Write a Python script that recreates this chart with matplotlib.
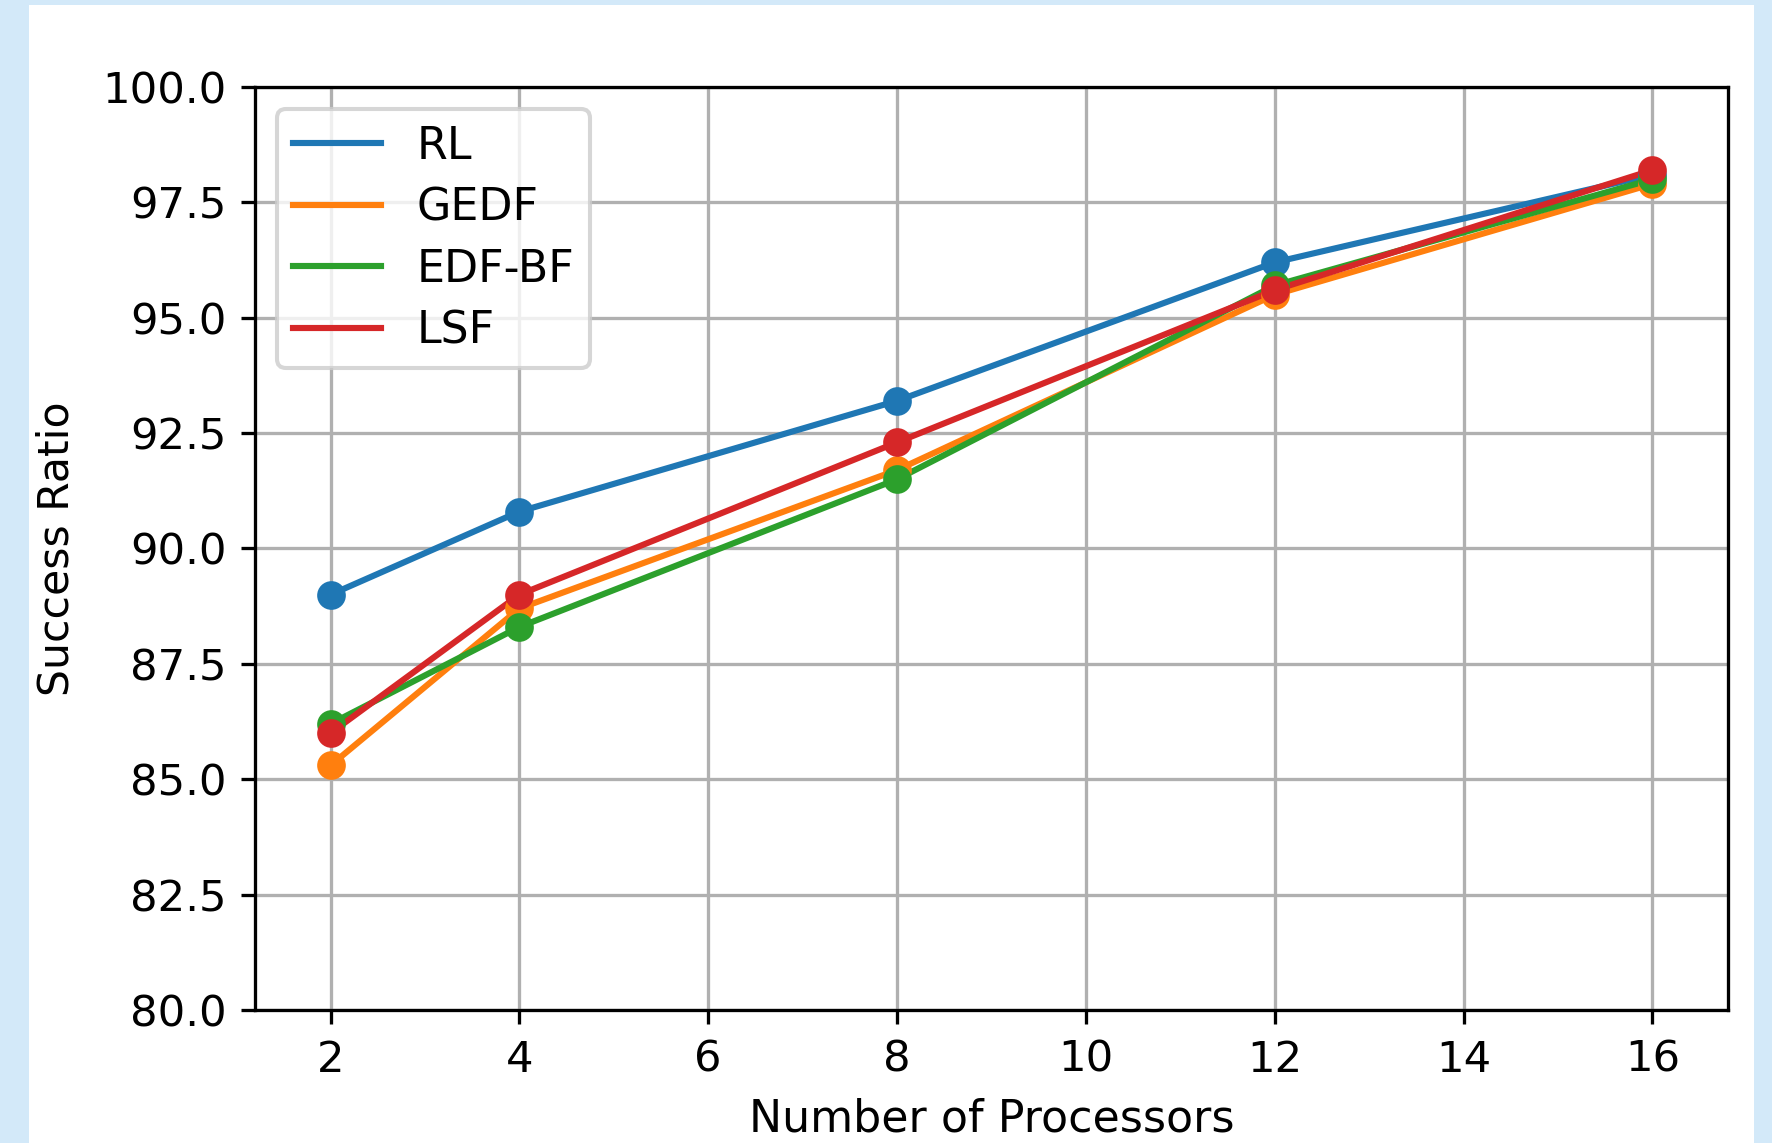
import matplotlib
matplotlib.use("Agg")
import matplotlib.pyplot as plt
from matplotlib.patches import Rectangle

# processors on the x axis
processors = [2, 4, 8, 12, 16]

# success ratio per scheduler
rl = [89.0, 90.8, 93.2, 96.2, 98.1]
gedf = [85.3, 88.7, 91.7, 95.5, 97.9]
edf_bf = [86.2, 88.3, 91.5, 95.7, 98.0]
lsf = [86.0, 89.0, 92.3, 95.6, 98.2]

series = [("RL", rl, "#1f77b4"),
          ("GEDF", gedf, "#ff7f0e"),
          ("EDF-BF", edf_bf, "#2ca02c"),
          ("LSF", lsf, "#d62728")]

x_ticks = [2, 4, 6, 8, 10, 12, 14, 16]
y_ticks = [80.0, 82.5, 85.0, 87.5, 90.0, 92.5, 95.0, 97.5, 100.0]

fig = plt.figure(figsize=(1772 / 295, 1143 / 295), dpi=295, facecolor="#d3e9f9")

# white panel sitting on the light blue page
fig.patches.append(Rectangle((29 / 1772, 0), (1754 - 29) / 1772, 1 - 5 / 1143,
                             transform=fig.transFigure, facecolor="white",
                             edgecolor="none", zorder=-5))

ax = fig.add_axes([255 / 1772, 1 - 1010 / 1143, (1728 - 255) / 1772, (1010 - 87) / 1143])
ax.set_facecolor("white")
ax.set_zorder(1)

for name, vals, col in series:
    ax.plot(processors, vals, color=col, linewidth=1.5, label=name)
    ax.scatter(processors, vals, color=col, s=36, zorder=3)

ax.set_xlim(1.2, 16.8)
ax.set_ylim(80, 100)
ax.set_xticks(x_ticks)
ax.set_yticks(y_ticks)
ax.set_yticklabels([f"{v:.1f}" for v in y_ticks])
ax.tick_params(labelsize=10.6)
ax.grid(True, color="#b0b0b0", linewidth=0.8)
ax.set_axisbelow(True)

ax.set_xlabel("Number of Processors", fontsize=10.8)
ax.set_ylabel("Success Ratio", fontsize=10.4, labelpad=6)

ax.legend(loc="upper left", fontsize=10.8, labelspacing=0.42, borderpad=0.35)

fig.savefig("out.png", dpi=295, facecolor=fig.get_facecolor())
